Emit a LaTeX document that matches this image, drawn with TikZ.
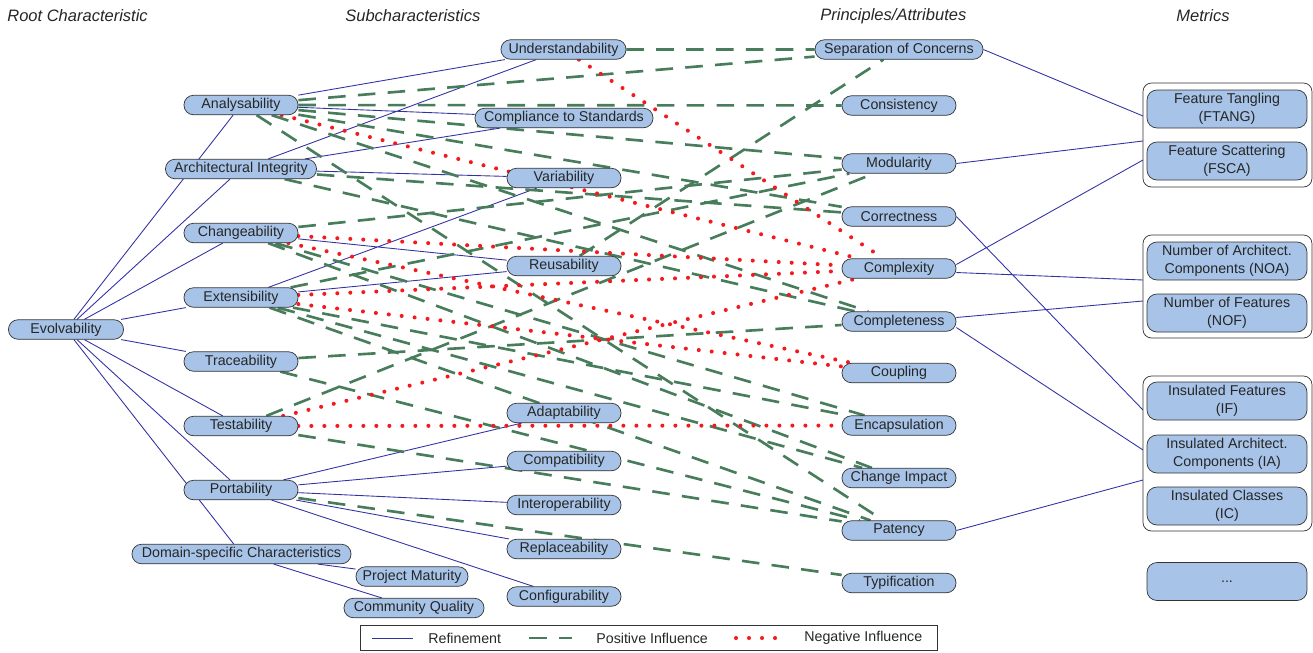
\documentclass[tikz,border=0pt]{standalone}
\usepackage{fontspec}
\setmainfont{Liberation Sans}
\usepackage{tikz}
\usetikzlibrary{backgrounds}

\definecolor{nodeblue}{RGB}{167,196,232}
\definecolor{refblue}{RGB}{50,50,165}
\definecolor{posgreen}{RGB}{72,125,92}
\definecolor{negred}{RGB}{245,25,30}

\begin{document}
\begin{tikzpicture}[x=0.02cm, y=-0.02cm,
    every node/.style={font=\fontsize{8.1}{9.5}\selectfont, text=black!85},
    item/.style={draw=black!80, fill=nodeblue, rounded corners=0.19cm, minimum height=0.39cm, inner sep=0pt, minimum width=#1*0.02cm},
    item/.default=114,
    metric/.style={draw=black!80, fill=nodeblue, rounded corners=0.2cm, minimum width=3.2cm, minimum height=0.76cm, inner sep=0pt, align=center, font=\fontsize{8.1}{10.2}\selectfont},
    group/.style={draw=black!80, fill=white, rounded corners=0.17cm, minimum width=3.38cm, inner sep=0pt, minimum height=#1*0.02cm},
    heading/.style={font=\fontsize{9.4}{11}\selectfont\itshape, inner sep=0pt, anchor=west},
    refine/.style={refblue, line width=0.5pt},
    positive/.style={posgreen, line width=1.5pt, dash pattern=on 10pt off 7pt},
    negative/.style={negred, line width=2.3pt, line cap=round, dash pattern=on 0pt off 7.4pt},
  ]
  \useasboundingbox (0,0) rectangle (1313,653);

  % column headings
  \node[heading] (hroot) at (7,16) {Root Characteristic};
  \node[heading] (hsub) at (345,16) {Subcharacteristics};
  \node[heading] (hprin) at (820,16) {Principles/Attributes};
  \node[heading] (hmet) at (1176,16) {Metrics};

  % root and subcharacteristics
  \node[item=115] (evo) at (66,329.5) {Evolvability};
  \node[item] (ana) at (241,105) {Analysability};
  \node[item=151] (arch) at (241,169) {Architectural Integrity};
  \node[item] (chg) at (241,233) {Changeability};
  \node[item] (ext) at (241,297.5) {Extensibility};
  \node[item] (trace) at (241,361.5) {Traceability};
  \node[item] (test) at (241,426) {Testability};
  \node[item] (port) at (241,490) {Portability};
  \node[item=219] (dom) at (241.5,554) {Domain-specific Characteristics};
  \node[item=112] (mat) at (412,576.5) {Project Maturity};
  \node[item=140] (comm) at (414,608) {Community Quality};

  \node[item=125] (und) at (563.5,49.5) {Understandability};
  \node[item=178] (compl) at (564,118) {Compliance to Standards};
  \node[item] (var) at (564,178) {Variability};
  \node[item] (reuse) at (564,266) {Reusability};
  \node[item] (adapt) at (564,413) {Adaptability};
  \node[item] (compat) at (564,461) {Compatibility};
  \node[item] (interop) at (564,505) {Interoperability};
  \node[item] (repl) at (564,549) {Replaceability};
  \node[item] (config) at (564,596.5) {Configurability};

  % principles / attributes
  \node[item=168] (soc) at (899,49.5) {Separation of Concerns};
  \node[item] (cons) at (899,105.5) {Consistency};
  \node[item] (mod) at (899,163.5) {Modularity};
  \node[item] (corr) at (899,216.5) {Correctness};
  \node[item] (cplx) at (899,268.5) {Complexity};
  \node[item] (cmpl) at (899,321.5) {Completeness};
  \node[item] (coup) at (899,373) {Coupling};
  \node[item] (enc) at (899,425.5) {Encapsulation};
  \node[item] (impact) at (899,478) {Change Impact};
  \node[item] (pat) at (899,530.5) {Patency};
  \node[item] (typ) at (899,583) {Typification};

  % metrics
  \node[group=104] (g1) at (1227.5,135) {};
  \node[group=103] (g2) at (1227.5,286.5) {};
  \node[group=155] (g3) at (1227.5,453.5) {};
  \node[metric] (ftang) at (1227,109) {Feature Tangling\\(FTANG)};
  \node[metric] (fsca) at (1227,161) {Feature Scattering\\(FSCA)};
  \node[metric] (noa) at (1227,261) {Number of Architect.\\Components (NOA)};
  \node[metric] (nof) at (1227,313) {Number of Features\\(NOF)};
  \node[metric] (if) at (1227,401) {Insulated Features\\(IF)};
  \node[metric] (ia) at (1227,454) {Insulated Architect.\\Components (IA)};
  \node[metric] (ic) at (1227,506) {Insulated Classes\\(IC)};
  \node[metric] (more) at (1227,581.5) {...};
  \coordinate (g1a) at (1143,116);
  \coordinate (g1b) at (1143,141);
  \coordinate (g1c) at (1143,160);
  \coordinate (g2a) at (1143,280);
  \coordinate (g2b) at (1143,301);
  \coordinate (g3a) at (1143,410);
  \coordinate (g3b) at (1143,450);
  \coordinate (g3c) at (1143,480);

  % legend
  \node[draw=black!80, minimum width=11.54cm, minimum height=0.5cm, inner sep=0pt] (legend) at (648.5,637.5) {};
  \coordinate (lr1) at (372,638);
  \coordinate (lr2) at (413,638);
  \coordinate (lp1) at (529,638);
  \coordinate (lp2) at (572,638);
  \coordinate (ln1) at (736,638);
  \coordinate (ln2) at (778,638);
  \node[anchor=west, inner sep=0pt] (lref) at (428,638) {Refinement};
  \node[anchor=west, inner sep=0pt] (lpos) at (596,638) {Positive Influence};
  \node[anchor=west, inner sep=0pt] (lneg) at (804,638) {Negative Influence};
  \draw[refine] (lr1) -- (lr2);
  \draw[positive] (lp1) -- (lp2);
  \draw[negative] (ln1) -- (ln2);

  \begin{scope}[on background layer]
    % refinement
    \draw[refine] (evo) -- (ana) (evo) -- (arch) (evo) -- (chg) (evo) -- (ext)
      (evo) -- (trace) (evo) -- (test) (evo) -- (port) (evo) -- (dom);
    \draw[refine] (ana) -- (und) (ana) -- (compl) (arch) -- (und) (arch) -- (compl)
      (arch) -- (var) (chg) -- (reuse) (ext) -- (var) (ext) -- (reuse);
    \draw[refine] (port) -- (adapt) (port) -- (compat) (port) -- (interop)
      (port) -- (repl) (port) -- (config) (dom) -- (mat) (dom) -- (comm);
    \draw[refine] (soc.east) -- (g1a) (mod.east) -- (g1b) (cplx.4) -- (g1c)
      (cplx.-4) -- (g2a) (cmpl.4) -- (g2b) (cmpl.-6) -- (g3b)
      (corr.east) -- (g3a) (pat.east) -- (g3c);
    % positive influence
    \draw[positive] (und) -- (soc) (reuse) -- (soc);
    \draw[positive] (ana) -- (soc) (ana) -- (cons) (ana) -- (mod) (ana) -- (corr)
      (ana) -- (cmpl) (ana) -- (pat);
    \draw[positive] (arch) -- (corr) (arch) -- (cmpl);
    \draw[positive] (chg) -- (mod) (chg) -- (enc) (chg) -- (impact);
    \draw[positive] (ext) -- (mod) (ext) -- (enc) (ext) -- (impact) (ext) -- (pat);
    \draw[positive] (trace) -- (cmpl) (trace) -- (pat);
    \draw[positive] (test) -- (mod) (test) -- (pat);
    \draw[positive] (port) -- (typ);
    % negative influence
    \draw[negative] (und) -- (cplx) (ana) -- (cplx) (chg) -- (cplx) (chg) -- (coup)
      (ext) -- (cplx) (ext) -- (coup) (test) -- (cplx) (test) -- (enc);
  \end{scope}
\end{tikzpicture}
\end{document}
